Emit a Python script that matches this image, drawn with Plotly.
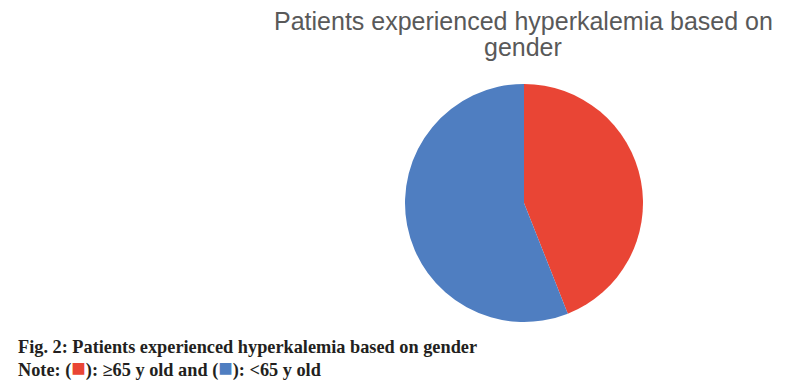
import plotly.graph_objects as go

labels = ["≥65 y old", "<65 y old"]
values = [44, 56]
colors = ["#E94535", "#4F7EC1"]
title_lines = ["Patients experienced hyperkalemia based on", "gender"]

W, H = 785, 380
cx, cy, r = 524, 203, 119

fig = go.Figure(go.Pie(
    labels=labels, values=values, sort=False, direction="clockwise", rotation=0,
    marker=dict(colors=colors, line=dict(width=0)),
    textinfo="none", hoverinfo="label+value", showlegend=False,
    domain=dict(x=[(cx - r) / W, (cx + r) / W], y=[(H - cy - r) / H, (H - cy + r) / H]),
))

title_font = dict(family="Liberation Sans, Arial", size=25, color="#595959")
for line, ypx in zip(title_lines, [21, 47]):
    fig.add_annotation(text=line, x=(cx - 1) / W, y=1 - ypx / H, xref="paper", yref="paper",
                       xanchor="center", yanchor="middle", showarrow=False,
                       font=title_font)

cap_font = dict(family="Liberation Serif, Times New Roman", size=18.3, color="#231f20")
sq = "<span style='color:{c};font-size:24px'>■</span>"
fig.add_annotation(text="<b>Fig. 2: Patients experienced hyperkalemia based on gender</b>",
                   x=16 / W, y=1 - 347 / H, xref="paper", yref="paper",
                   xanchor="left", yanchor="middle", showarrow=False, font=cap_font)
fig.add_annotation(text="<b>Note: (" + sq.format(c=colors[0]) + "): ≥65 y old and ("
                        + sq.format(c=colors[1]) + "): &lt;65 y old</b>",
                   x=16 / W, y=1 - 368 / H, xref="paper", yref="paper",
                   xanchor="left", yanchor="middle", showarrow=False, font=cap_font)

fig.update_layout(width=W, height=H, margin=dict(l=0, r=0, t=0, b=0),
                  paper_bgcolor="white", plot_bgcolor="white")
fig.write_html("out.html", config={"displayModeBar": False},
               post_script="document.body.style.margin='0';document.body.style.overflow='hidden';")
